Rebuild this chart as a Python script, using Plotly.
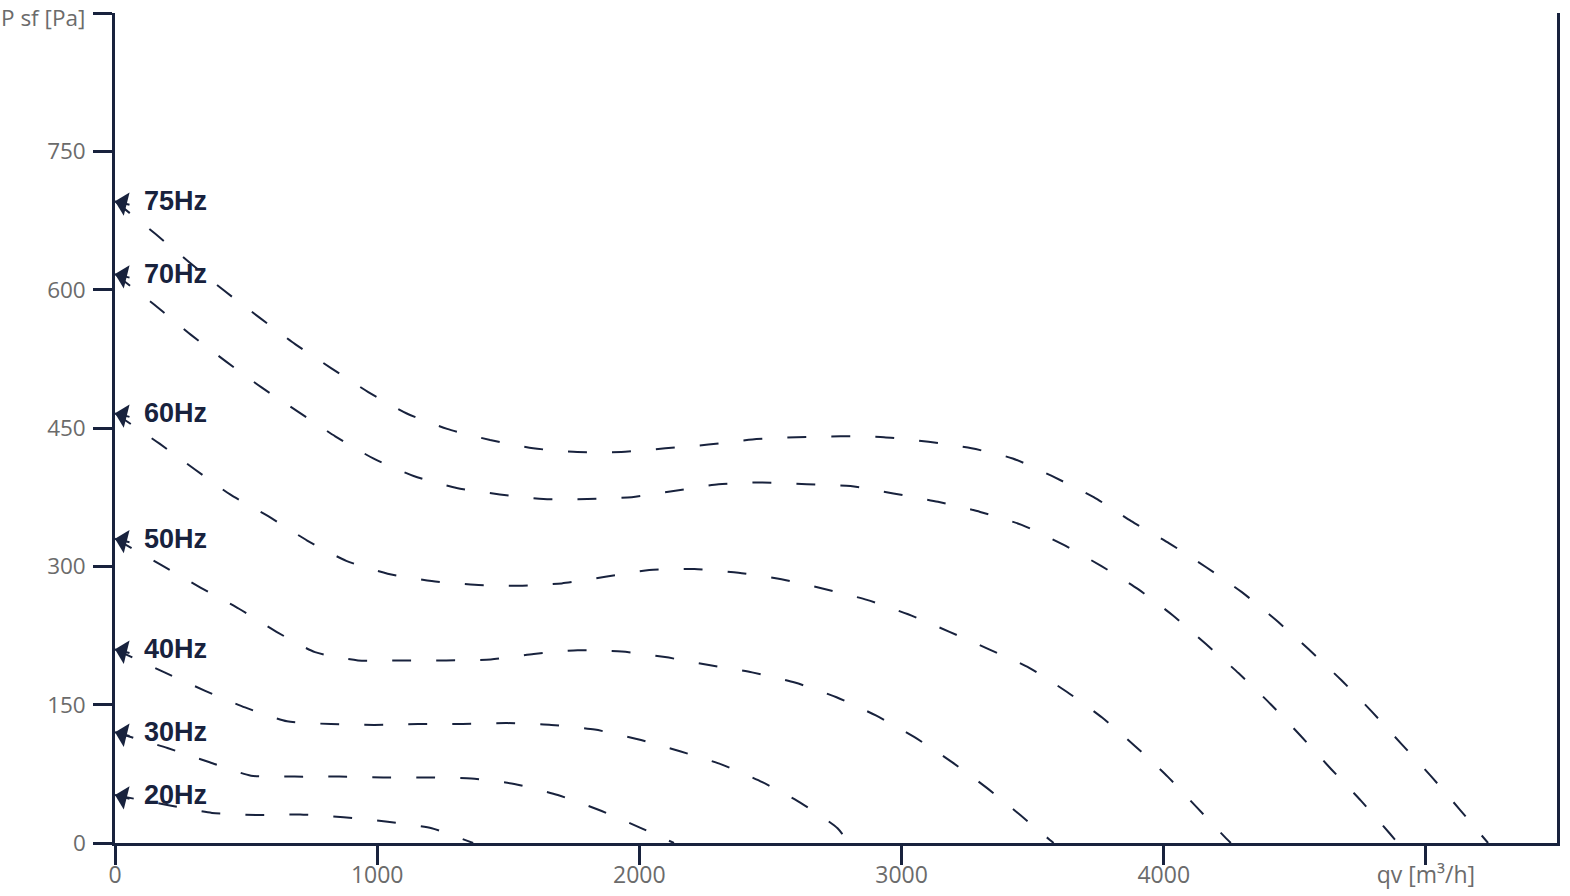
import plotly.graph_objects as go

# ---- data ----
freq_labels = ["75Hz", "70Hz", "60Hz", "50Hz", "40Hz", "30Hz", "20Hz"]

q75 = [0, 156, 282, 416, 550, 687, 824, 966, 1111, 1267, 1431, 1595, 1763, 1931, 2099, 2263, 2431, 2599,
       2767, 2933, 3103, 3267, 3424, 3573, 3733, 3876, 4021, 4162, 4298, 4427, 4553, 4676, 4792, 4908,
       5021, 5130, 5237]
p75 = [696, 660, 630, 599, 570, 541, 515, 489, 466, 449, 437, 428, 424, 424, 428, 432, 437.5, 440,
       441, 440, 435, 428, 417, 398, 375, 349, 325, 299, 272, 242, 210, 177, 143, 107,
       72, 36, 0]

q70 = [0, 162, 290, 424, 559, 702, 840, 985, 1139, 1303, 1468, 1634, 1802, 1971, 2137, 2302, 2469, 2639,
       2805, 2969, 3139, 3300, 3458, 3613, 3761, 3901, 4034, 4160, 4286, 4408, 4523, 4639, 4752, 4863, 4893]
p70 = [617, 581, 551, 522, 494, 467, 441, 417, 398, 385, 378, 373, 373, 375, 382, 389, 391, 389,
       387, 379, 370, 359, 345, 324, 300.5, 275.5, 247, 216, 184, 150.5, 116, 80, 46, 10, 0]

q60 = [0, 170, 305, 439, 592, 733, 882, 1040, 1208, 1372, 1540, 1704, 1876, 2038, 2210, 2378, 2542, 2706,
       2868, 3025, 3183, 3334, 3487, 3630, 3765, 3891, 4015, 4130, 4238, 4256]
p60 = [466, 433, 405, 378, 353, 328, 306, 292, 284, 280, 279, 281.5, 289, 296, 297, 293, 286, 275.5,
       263.6, 248, 229, 210, 190, 164, 136, 105, 72, 37.5, 5, 0]

q50 = [0, 179, 326, 473, 616, 763, 927, 1097, 1263, 1433, 1597, 1765, 1933, 2098, 2265, 2430, 2593, 2752,
       2904, 3048, 3191, 3324, 3454, 3567, 3580]
p50 = [330, 301, 277, 254, 229, 207, 198, 198, 198, 199, 205, 209, 207.6, 201.6, 193, 185, 174, 158,
       138, 115, 88, 60, 30, 3, 0]

q40 = [0, 189, 344, 496, 656, 824, 989, 1156, 1326, 1496, 1664, 1830, 1994, 2155, 2315, 2469, 2615, 2756, 2798]
p40 = [210, 185, 165, 147, 132, 129, 128, 129, 129, 130, 128, 123, 112.5, 99.5, 85, 66, 43.5, 16, 0]

q30 = [0, 200, 361, 519, 685, 855, 1023, 1191, 1359, 1523, 1689, 1844, 2000, 2132]
p30 = [120, 103, 87.5, 73, 72, 72, 71, 71, 70, 64, 52, 36, 17, 0]

q20 = [0, 204, 370, 538, 706, 872, 1040, 1208, 1347, 1366]
p20 = [52, 41, 32.6, 30.4, 31, 28, 23, 16, 2, 0]

x_tickvals = [0, 1000, 2000, 3000, 4000, 5000]
x_ticktext = ["0", "1000", "2000", "3000", "4000", "qv [m³/h]"]
y_tickvals = [0, 150, 300, 450, 600, 750, 900]
y_ticktext = ["0", "150", "300", "450", "600", "750", ""]
y_title = "P sf [Pa]"

# ---- styling ----
NAVY = "#18223d"
GREY = "#6b6b6b"

curves = [(q75, p75), (q70, p70), (q60, p60), (q50, p50), (q40, p40), (q30, p30), (q20, p20)]

fig = go.Figure()
for (qs, ps), name in zip(curves, freq_labels):
    fig.add_trace(go.Scatter(
        x=qs, y=ps, mode="lines", name=name, showlegend=False,
        line=dict(color=NAVY, width=2, dash="19px,25px", shape="spline", smoothing=0.6),
        hoverinfo="skip", cliponaxis=False,
    ))
    # arrow head at the curve start
    fig.add_annotation(
        x=qs[0], y=ps[0], xref="x", yref="y", text="",
        showarrow=True, arrowhead=1, arrowsize=2.0, arrowwidth=2, arrowcolor=NAVY,
        ax=16, ay=4,
    )
    # frequency label
    fig.add_annotation(
        x=qs[0], y=ps[0], xref="x", yref="y", text="<b>%s</b>" % name,
        showarrow=False, xanchor="left", yanchor="middle", xshift=27,
        font=dict(family="Liberation Sans, Arial, sans-serif", size=27, color=NAVY),
    )

# y-axis title placed at the top tick position
fig.add_annotation(
    x=0, xref="paper", y=y_tickvals[-1], yref="y", text=y_title,
    showarrow=False, xanchor="right", yanchor="middle", xshift=-28, yshift=-4,
    font=dict(family="Open Sans, sans-serif", size=22.5, color=GREY),
)

axis_common = dict(
    showline=True, linecolor=NAVY, linewidth=2.5,
    ticks="outside", ticklen=19, tickwidth=2.5, tickcolor=NAVY,
    showgrid=False, zeroline=False, automargin=False, ticklabeloverflow="allow",
)

fig.update_layout(
    width=1570, height=896,
    margin=dict(l=115, r=13, t=13, b=53),
    paper_bgcolor="white", plot_bgcolor="white",
    xaxis=dict(range=[0, 5500], tickvals=x_tickvals, ticktext=x_ticktext,
               ticklabelstandoff=-9,
               tickfont=dict(family="Open Sans, sans-serif", size=23, color=GREY),
               **axis_common),
    yaxis=dict(range=[0, 900], tickvals=y_tickvals, ticktext=y_ticktext, mirror=True,
               ticklabelstandoff=3,
               tickfont=dict(family="Open Sans, sans-serif", size=22.5, color=GREY),
               **axis_common),
)

fig.write_html(
    "out.html",
    config={"displayModeBar": False},
    post_script="document.body.style.margin='0';document.body.style.overflow='hidden';",
)
